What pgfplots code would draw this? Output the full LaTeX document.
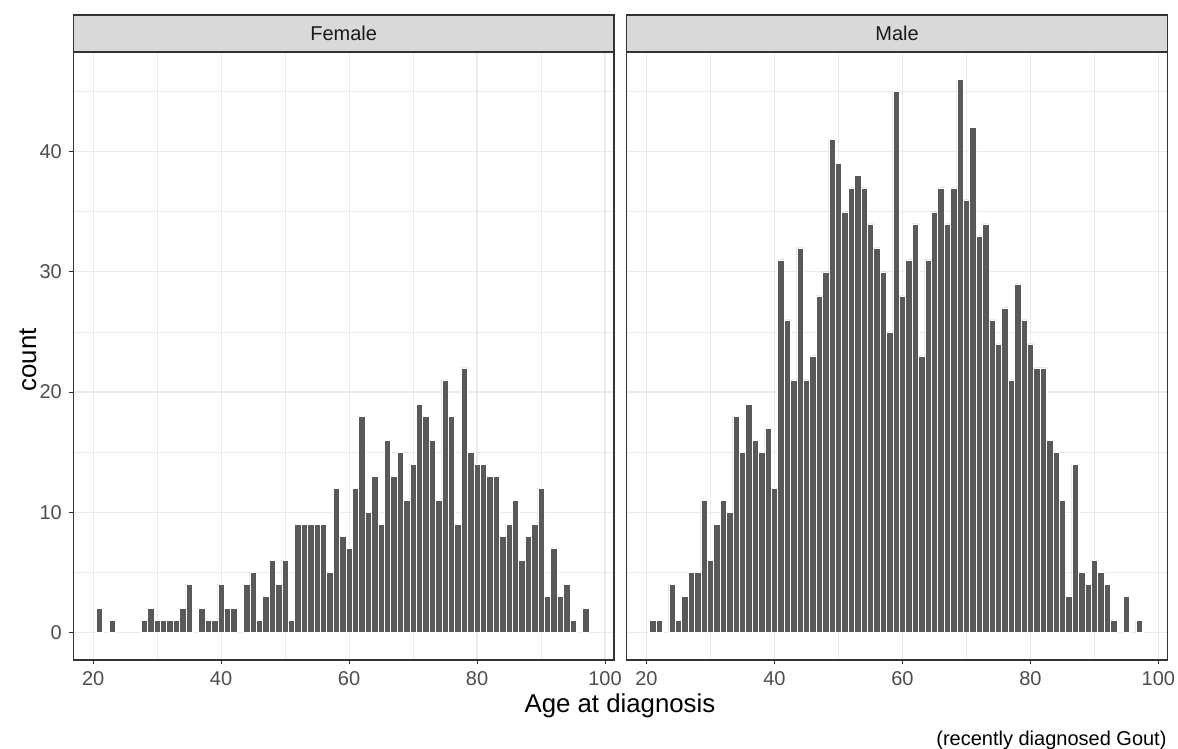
\documentclass[border=0pt]{standalone}
\usepackage{fontspec}
\setmainfont{Liberation Sans}
\usepackage{pgfplots}
\pgfplotsset{compat=1.18}

\definecolor{barc}{HTML}{595959}
\definecolor{gridc}{HTML}{EBEBEB}
\definecolor{framec}{HTML}{333333}
\definecolor{tickl}{HTML}{4D4D4D}
\definecolor{stripc}{HTML}{D9D9D9}
\definecolor{stript}{HTML}{1A1A1A}

\pgfplotsset{
  facet/.style={
    width=270.35pt, height=304pt, scale only axis,
    xmin=16.9, xmax=101.4, ymin=-2.3, ymax=48.3,
    xtick={20,40,60,80,100}, minor xtick={30,50,70,90},
    ytick={0,10,20,30,40}, minor ytick={5,15,25,35,45},
    grid=both,
    major grid style={gridc, line width=0.55pt},
    minor grid style={gridc, line width=0.3pt},
    axis line style={framec, line width=0.6pt},
    tick align=outside, major tick length=2.2pt, minor tick length=0pt,
    tick style={framec, line width=0.5pt},
    xtick pos=bottom, ytick pos=left,
    tick label style={font=\fontsize{10}{11}\selectfont, text=tickl},
    /pgf/number format/assume math mode=true,
  },
  hist/.style={ybar, bar width=1, fill=barc, draw=white, line width=0.25pt},
}

\begin{document}
\begin{tikzpicture}
\useasboundingbox (-36.65pt,-44.5pt) rectangle (552.4pt,330pt);

% Female
\begin{axis}[facet, at={(0pt,0pt)}]
\addplot[hist] coordinates {
  (21,2) (23,1) (28,1) (29,2) (30,1) (31,1) (32,1) (33,1) (34,2) (35,4)
  (37,2) (38,1) (39,1) (40,4) (41,2) (42,2) (44,4) (45,5) (46,1) (47,3)
  (48,6) (49,4) (50,6) (51,1) (52,9) (53,9) (54,9) (55,9) (56,9) (57,5)
  (58,12) (59,8) (60,7) (61,12) (62,18) (63,10) (64,13) (65,9) (66,16) (67,13)
  (68,15) (69,11) (70,14) (71,19) (72,18) (73,16) (74,11) (75,21) (76,18) (77,9)
  (78,22) (79,15) (80,14) (81,14) (82,13) (83,13) (84,8) (85,9) (86,11) (87,6)
  (88,8) (89,9) (90,12) (91,3) (92,7) (93,3) (94,4) (95,1) (97,2)
};
\end{axis}

% Male
\begin{axis}[facet, at={(276.7pt,0pt)}, yticklabels={}, ytick style={draw=none}]
\addplot[hist] coordinates {
  (21,1) (22,1) (24,4) (25,1) (26,3) (27,5) (28,5) (29,11) (30,6) (31,9)
  (32,11) (33,10) (34,18) (35,15) (36,19) (37,16) (38,15) (39,17) (40,12) (41,31)
  (42,26) (43,21) (44,32) (45,21) (46,23) (47,28) (48,30) (49,41) (50,39) (51,35)
  (52,37) (53,38) (54,37) (55,34) (56,32) (57,30) (58,25) (59,45) (60,28) (61,31)
  (62,34) (63,23) (64,31) (65,35) (66,37) (67,34) (68,37) (69,46) (70,36) (71,42)
  (72,33) (73,34) (74,26) (75,24) (76,27) (77,21) (78,29) (79,26) (80,24) (81,22)
  (82,22) (83,16) (84,15) (85,11) (86,3) (87,14) (88,5) (89,4) (90,6) (91,5)
  (92,4) (93,1) (95,3) (97,1)
};
\end{axis}

% facet strips
\draw[fill=stripc, draw=framec, line width=0.6pt] (0pt,304pt) rectangle (270.35pt,322.5pt);
\node[font=\fontsize{10}{11}\selectfont, text=stript] at (135.2pt,313.25pt) {Female};
\draw[fill=stripc, draw=framec, line width=0.6pt] (276.7pt,304pt) rectangle (547.05pt,322.5pt);
\node[font=\fontsize{10}{11}\selectfont, text=stript] at (411.9pt,313.25pt) {Male};

% axis titles and caption
\node[font=\fontsize{12.9}{14}\selectfont] at (273.35pt,-23pt) {Age at diagnosis};
\node[font=\fontsize{12.9}{14}\selectfont, rotate=90] at (-22.65pt,150pt) {count};
\node[font=\fontsize{10}{11}\selectfont, anchor=east, inner sep=0pt] at (546.85pt,-40pt) {(recently diagnosed Gout)};
\end{tikzpicture}
\end{document}
